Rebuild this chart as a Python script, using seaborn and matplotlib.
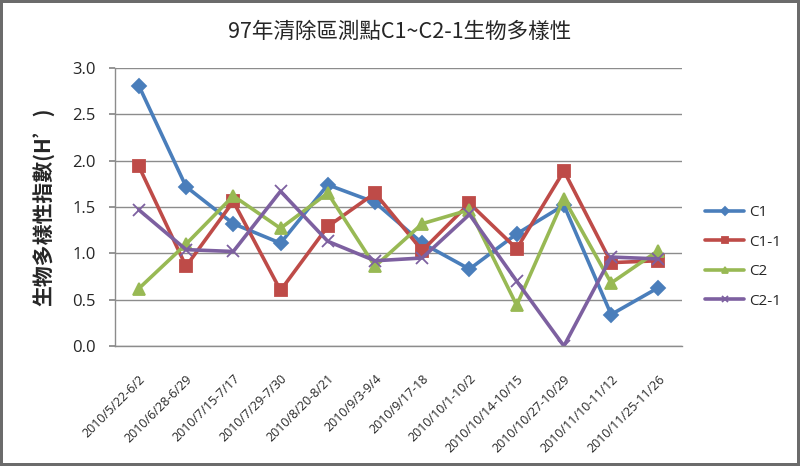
import matplotlib
matplotlib.use("Agg")
import matplotlib.pyplot as plt
import seaborn as sns
import pandas as pd

categories = ["2010/5/22-6/2", "2010/6/28-6/29", "2010/7/15-7/17", "2010/7/29-7/30",
              "2010/8/20-8/21", "2010/9/3-9/4", "2010/9/17-18", "2010/10/1-10/2",
              "2010/10/14-10/15", "2010/10/27-10/29", "2010/11/10-11/12", "2010/11/25-11/26"]
c1 = [2.81, 1.72, 1.32, 1.11, 1.74, 1.55, 1.11, 0.83, 1.21, 1.52, 0.34, 0.63]
c1_1 = [1.94, 0.86, 1.56, 0.60, 1.29, 1.65, 1.03, 1.54, 1.05, 1.89, 0.90, 0.92]
c2 = [0.62, 1.10, 1.62, 1.27, 1.65, 0.86, 1.32, 1.47, 0.44, 1.59, 0.68, 1.03]
c2_1 = [1.47, 1.04, 1.02, 1.67, 1.13, 0.92, 0.95, 1.42, 0.70, 0.00, 0.96, 0.94]
series_names = ["C1", "C1-1", "C2", "C2-1"]
title = "97年清除區測點C1~C2-1生物多樣性"
ylabel = "生物多樣性指數(H’)"

sns.set_theme(style="white")
plt.rcParams['font.family'] = ['Noto Sans CJK TC', 'DejaVu Sans']

fig = plt.figure(figsize=(8, 4.66), dpi=100)
fig.patch.set_edgecolor("#6b6b6b")
fig.patch.set_linewidth(4)
ax = fig.add_axes([0.144, 0.2575, 0.7085, 0.5965])

colors = ["#4A7EBB", "#BE4B48", "#98B954", "#7D60A0"]
markers = ["D", "s", "^", "x"]
msizes = [7.5, 9, 9, 9]
for name, vals, col, mk, ms in zip(series_names, [c1, c1_1, c2, c2_1], colors, markers, msizes):
    d = pd.DataFrame({"idx": range(len(categories)), "value": vals})
    sns.lineplot(data=d, x="idx", y="value", color=col, marker=mk, markersize=ms,
                 markeredgecolor=col, markeredgewidth=1.3, linewidth=2.6,
                 label=name, ax=ax)

ax.set_xlim(-0.5, len(categories) - 0.5)
ax.set_ylim(0, 3.0)
yt = [0, 0.5, 1.0, 1.5, 2.0, 2.5, 3.0]
ax.set_yticks(yt)
ax.set_yticklabels([f"{v:.1f}" for v in yt], fontsize=12, family=['Open Sans', 'DejaVu Sans'])
ax.set_xticks(range(len(categories)))
ax.set_xticklabels(categories, rotation=45, ha="right", rotation_mode="anchor",
                   fontsize=9, family=['Open Sans', 'DejaVu Sans'])
ax.tick_params(axis="y", which="major", left=True, length=4, color="#888888", pad=10)
ax.tick_params(axis="x", which="major", bottom=False, pad=13)
ax.yaxis.grid(True, color="#8c8c8c", linewidth=1)
ax.set_axisbelow(True)
for s in ["top", "right"]:
    ax.spines[s].set_visible(False)
for s in ["left", "bottom"]:
    ax.spines[s].set_color("#8c8c8c")
    ax.spines[s].set_linewidth(1)
ax.set_xlabel("")
ax.set_ylabel(ylabel, fontsize=15, fontweight="bold", labelpad=13)
fig.suptitle(title, fontsize=15.5, y=0.955, x=0.5)

handles, labels = ax.get_legend_handles_labels()
ax.legend(handles, labels, loc="center left", bbox_to_anchor=(1.04, 0.32),
          borderaxespad=0, borderpad=0, frameon=False, handlelength=2.6,
          handletextpad=0.3, labelspacing=0.95, markerscale=0.55,
          prop={'family': ['Open Sans', 'DejaVu Sans'], 'size': 11})

fig.savefig("out.png", dpi=100, edgecolor=fig.get_edgecolor())
